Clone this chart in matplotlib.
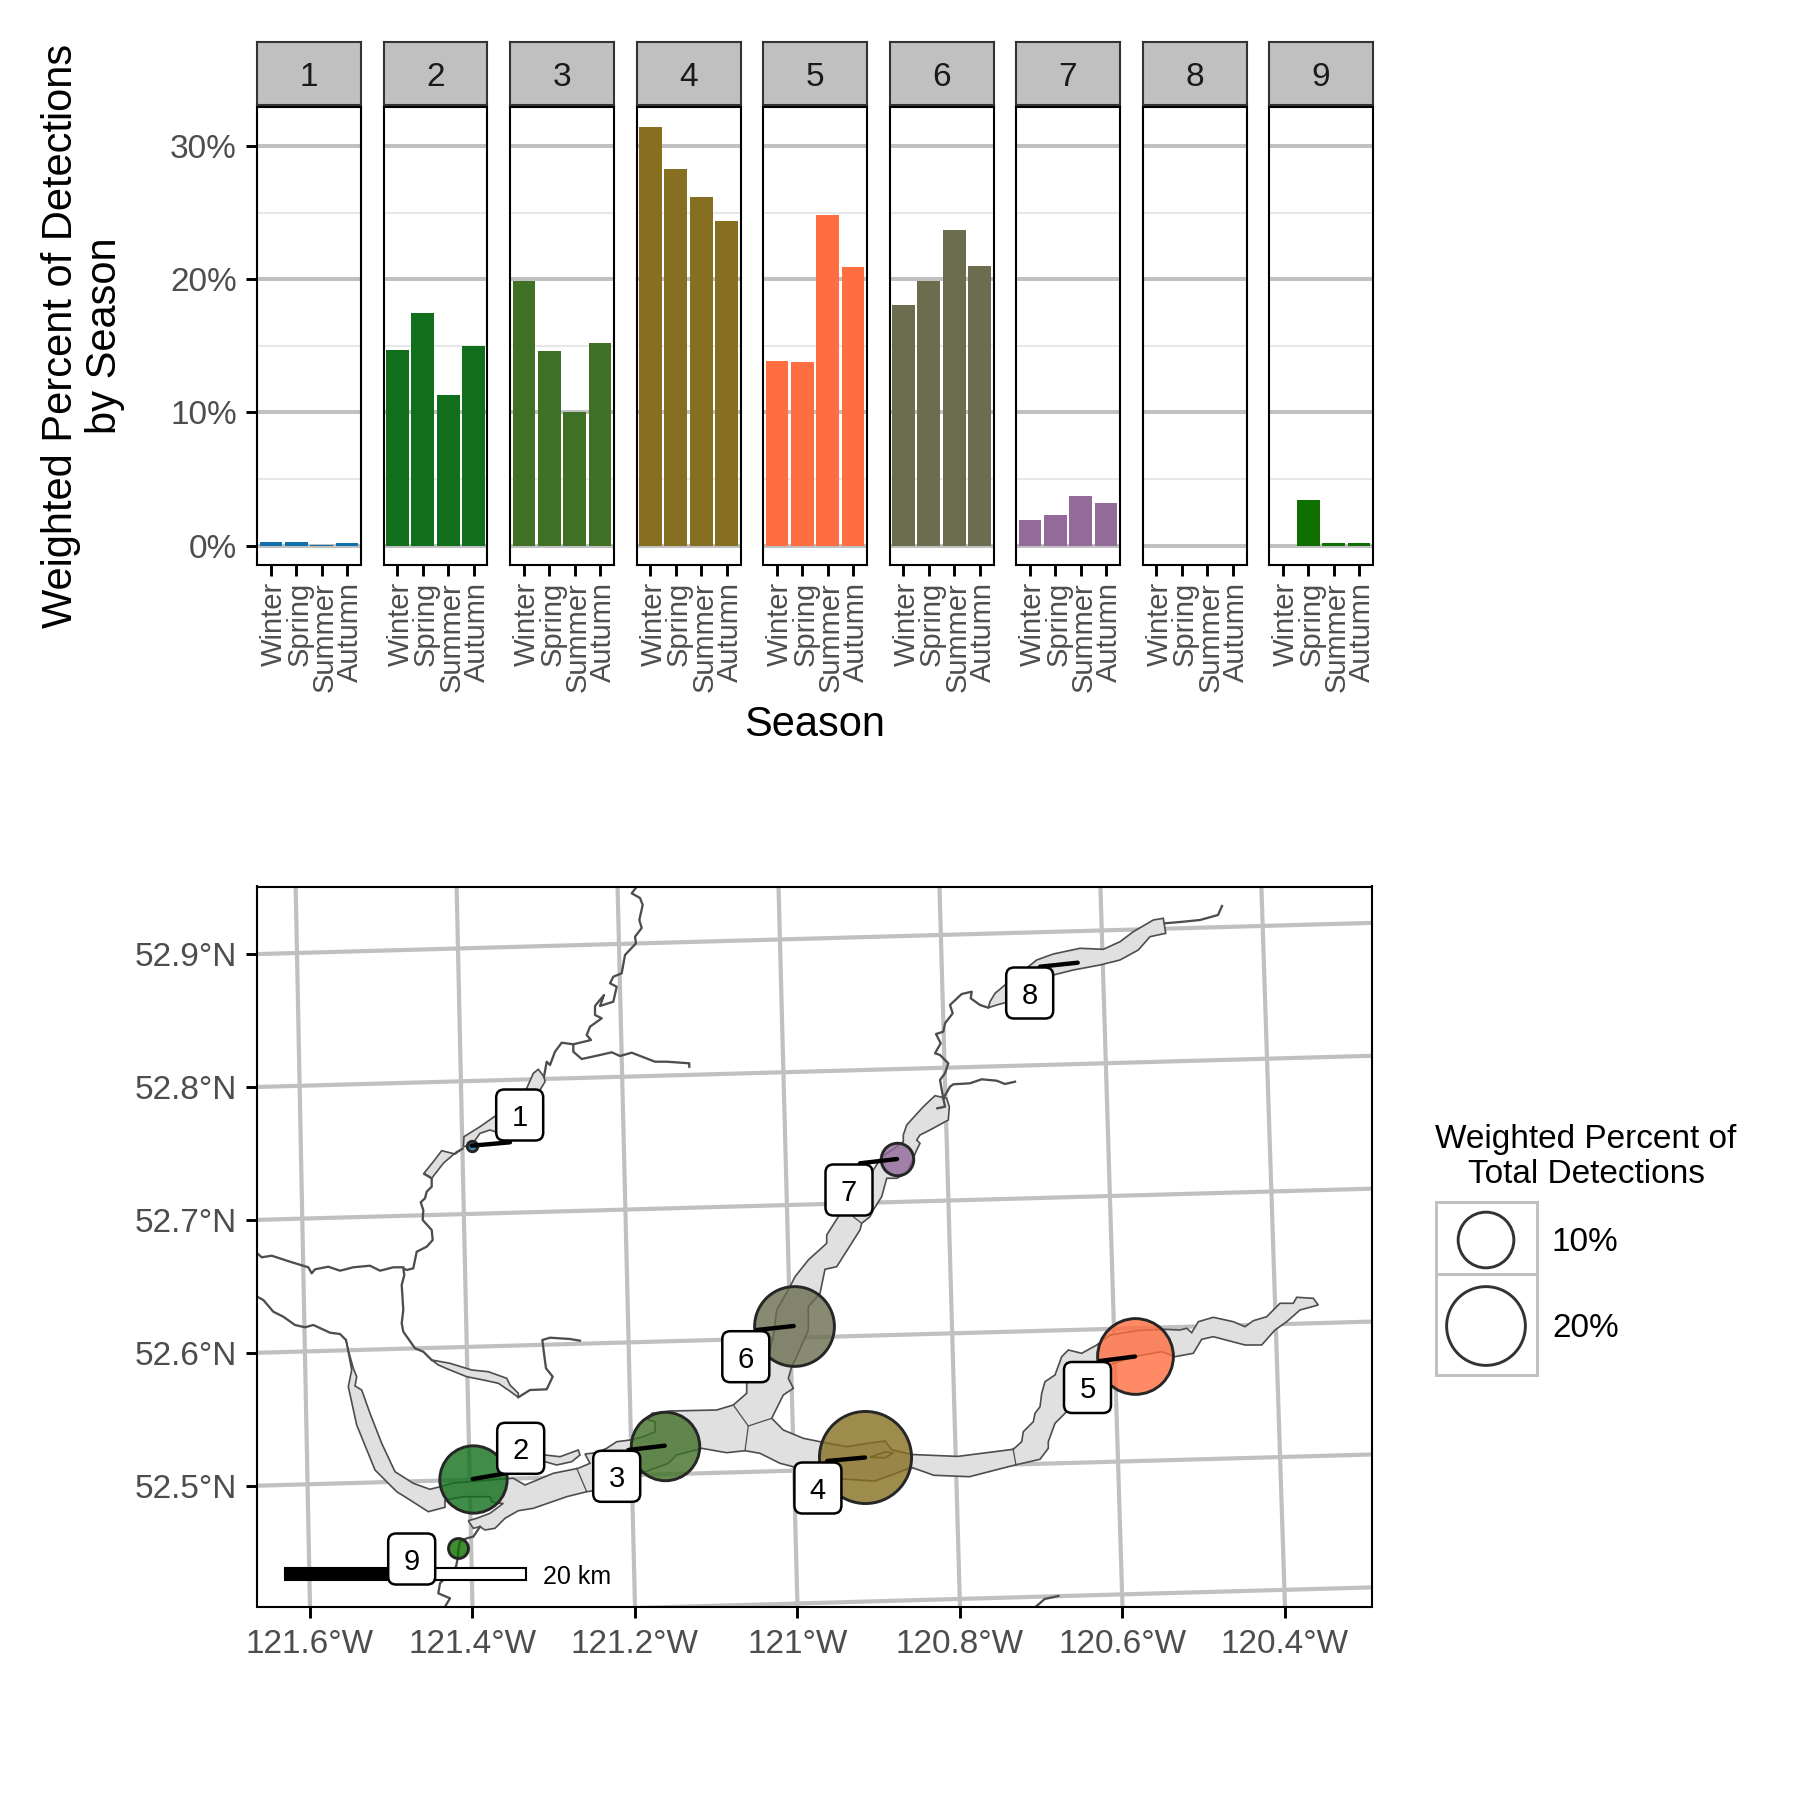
import matplotlib
matplotlib.use("Agg")
import matplotlib.pyplot as plt
from matplotlib.patches import FancyBboxPatch, Polygon, Rectangle
from matplotlib.colors import to_rgba
from matplotlib.transforms import ScaledTranslation
import numpy as np

plt.rcParams['font.family'] = ['Liberation Sans', 'DejaVu Sans']

# bar panels
sites = ["1", "2", "3", "4", "5", "6", "7", "8", "9"]
seasons = ["Winter", "Spring", "Summer", "Autumn"]
pct_by_season = [
    [0.25, 0.25, 0.07, 0.2],
    [14.7, 17.5, 11.3, 15.0],
    [19.9, 14.6, 10.0, 15.2],
    [31.4, 28.3, 26.2, 24.4],
    [13.9, 13.8, 24.8, 20.9],
    [18.1, 19.9, 23.7, 21.0],
    [1.9, 2.3, 3.75, 3.2],
    [0, 0, 0, 0],
    [0, 3.4, 0.2, 0.2],
]
site_colors = ["#1170AA", "#116F1B", "#407026", "#866F21", "#FF6E40",
               "#6B6D4E", "#936A9A", "#3E7A3E", "#0F7000"]

# bubble values, percent of total detections
pct_total = [0.33, 13.75, 14.2, 25.7, 17.4, 19.3, 3.2, 0, 1.2]

# map grid coordinates below are easting/southing in grid units (12 per km)
site_x = [471.7, 472.7, 664.7, 865, 1135, 793.7, 897, 1077.7, 458.3]
site_y = [1145.7, 1479, 1445.7, 1457.5, 1356.5, 1326, 1159, 962.7, 1548.3]
label_x = [519.7, 520.7, 616.7, 817.9, 1087.5, 745.8, 849, 1029.7, 411.7]
label_y = [1115, 1448.3, 1476.3, 1488, 1387.5, 1356.7, 1190, 993, 1559]
seg_end_x = [510, 508, 628.3, 827.2, 1100, 756.7, 860, 1040, None]
seg_end_y = [1142.3, 1473, 1450, 1461, 1361, 1330, 1163.3, 966.7, None]

lons = [-121.6, -121.4, -121.2, -121.0, -120.8, -120.6, -120.4]
lats = [52.5, 52.6, 52.7, 52.8, 52.9]
lats_grid = [52.4, 52.5, 52.6, 52.7, 52.8, 52.9, 53.0]

main_lake = [
    (346, 1340), (348.3, 1350), (353.3, 1368.3), (356.7, 1376.7), (355, 1386), (361.7, 1390),
    (370, 1413.3), (381.7, 1443.3), (395, 1471.7), (413.3, 1483.3), (430, 1489.3), (440, 1486.7),
    (453, 1483), (490, 1480), (513.3, 1478.3), (525, 1485), (553.3, 1473.3), (578.3, 1468.3),
    (590, 1463.3), (585, 1454), (596.7, 1452.7), (606.7, 1448.3), (616.7, 1441.7), (630, 1440),
    (643.3, 1436.7), (655, 1431.7), (655, 1421.7), (648.3, 1420), (651.7, 1413.3), (670, 1411),
    (716.7, 1410), (733.3, 1405), (746.7, 1393.3), (746.7, 1383.3), (770, 1350), (773.3, 1336.7),
    (776.7, 1310), (790, 1286.7), (795, 1276.7), (808.3, 1260), (826.7, 1243.3), (826.7, 1235),
    (838.3, 1216.7), (873.3, 1170), (881.7, 1156.7), (892, 1150), (903.3, 1141.7), (903.3, 1135),
    (906.7, 1125), (923.3, 1106.7), (935, 1095.7), (946.7, 1098.3), (949.3, 1106.7), (948.3, 1120),
    (930, 1130), (920, 1135), (916.7, 1140), (920, 1143.3), (916.7, 1150), (906.7, 1173.3),
    (896.7, 1178.3), (886.7, 1178.3), (881.7, 1196.7), (873.3, 1210), (870, 1216.7), (861.7, 1223.3),
    (860, 1230), (836.7, 1266.7), (825, 1269.3), (820, 1293.3), (808.3, 1306.7), (808.3, 1330),
    (796.7, 1356.7), (791.7, 1366.7), (788.3, 1378.3), (793.3, 1388.3), (783.3, 1395), (771.7, 1418.3),
    (783.3, 1430), (803.3, 1438.3), (820, 1441.7), (846.7, 1446.7), (870, 1443), (885, 1441),
    (892, 1450), (912.2, 1454.5), (957.6, 1456.4), (1013.3, 1449.3), (1021.7, 1441.7), (1023.3, 1431.7),
    (1033.3, 1421.7), (1035, 1413.3), (1040, 1406.7), (1041.7, 1393.3), (1045, 1381.7), (1055, 1375),
    (1061.7, 1356.7), (1068.3, 1350), (1081.7, 1353.3), (1096.7, 1345), (1110, 1335), (1136.7, 1330.7),
    (1163.3, 1329.3), (1180, 1330), (1186.7, 1328.3), (1191.7, 1332.7), (1198.3, 1321.7), (1213.3, 1317.3),
    (1233.3, 1321.7), (1245, 1326.7), (1253.3, 1320.7), (1266.7, 1316.7), (1280, 1303.3), (1293.3, 1303.3),
    (1296.7, 1297.3), (1313.3, 1298.3), (1318.3, 1305), (1300, 1310), (1286.7, 1321.7), (1275, 1330),
    (1261.7, 1345), (1245, 1345), (1213.3, 1336.7), (1201.7, 1339.3), (1193.3, 1353.3), (1175, 1356.7),
    (1161.7, 1351.7), (1143.3, 1355), (1135, 1356.7), (1113.3, 1363.3), (1090, 1380), (1065, 1413.3),
    (1055, 1423.3), (1048.3, 1441.7), (1048.3, 1448.3), (1040, 1459.3), (1015, 1465), (969.5, 1476.7),
    (933.9, 1475.3), (911.4, 1467.3), (894.4, 1474), (874.6, 1481), (843, 1479), (793.3, 1466.7),
    (780, 1463.3), (760, 1453.3), (745, 1450.7), (726.7, 1452.7), (701.7, 1448.3), (676.7, 1455),
    (668.3, 1463.3), (650, 1470), (641.7, 1473.3), (593.3, 1490.7), (586.7, 1491.7), (566.7, 1496.7),
    (533.3, 1508.3), (518.3, 1510.7), (505, 1518.3), (495, 1528.3), (485, 1530), (480, 1526.7),
    (473.3, 1528.3), (468.3, 1520.7), (476.7, 1518.3), (490, 1513.3), (503.3, 1503.3), (498.3, 1503.3),
    (491.7, 1501.7), (490, 1496.7), (463.3, 1496.7), (445, 1500), (445, 1507.3), (428.3, 1511.7),
    (410, 1500), (396.7, 1491.7), (388.3, 1483.3), (375, 1470), (356.7, 1425), (348.3, 1386.7),
    (351.7, 1370),
]
inlet = [(520, 1470), (545, 1455), (560, 1456.7), (578.3, 1450), (580, 1455), (571.7, 1461.7),
         (556.7, 1465), (545, 1461.7)]
island = [(870, 1457), (885, 1452), (893, 1453), (885, 1458)]
lake_upper = [(544, 1076.7), (538.3, 1069.3), (533.3, 1073.3), (526.7, 1088.3), (496.7, 1115), (480, 1126.7),
              (464, 1136.7), (463.3, 1146.7), (471.7, 1145), (480, 1133.3), (490, 1130), (500, 1133.3),
              (540, 1090), (545, 1081.7)]
lake_lower = [(463.3, 1148.3), (455, 1154), (441.7, 1150.7), (433.3, 1161.7), (424, 1173.3), (431.7, 1178.3),
              (443.3, 1163.3), (456.7, 1151.7)]
lake_mid = [(431.7, 1360), (450, 1363.3), (471.7, 1370), (488.3, 1371.7), (506.7, 1378.3), (510, 1385),
            (518.3, 1393.3), (518.3, 1397.3), (508.3, 1390), (498.3, 1383.3), (483.3, 1380), (466.7, 1376.7),
            (450, 1370), (438.3, 1365)]
lake_8a = [(988.3, 1007.7), (990, 1001.7), (995, 993.3), (1005, 985), (1015, 985), (1015, 1000), (996.7, 1005)]
lake_8b = [(1028.3, 966.7), (1036.7, 960), (1053.3, 954), (1080, 948.3), (1103.3, 949.3), (1120, 941.7),
           (1133.3, 931.7), (1153.3, 920), (1163.3, 918.3), (1165.7, 933.3), (1150, 936.7), (1138.3, 950),
           (1120, 960), (1100, 965), (1073.3, 970), (1053.3, 975), (1040, 975)]
lakes = [main_lake, inlet, island, lake_upper, lake_lower, lake_mid, lake_8a, lake_8b]

river_north = [(637.3, 886), (631.7, 893.3), (640, 898), (642.7, 905), (639.3, 920), (641.7, 928), (635, 936.7),
               (636, 943.3), (625, 955), (621.7, 973.3), (613.3, 976.7), (610, 983.3), (616.7, 986.7),
               (613.3, 1001.7), (600, 1006), (604, 995), (595, 1006), (595, 1015), (601.7, 1018.3), (590, 1026.7),
               (586.7, 1035), (591, 1040), (573.3, 1044.3), (561.7, 1042.7), (555, 1051.7), (550, 1065),
               (546.7, 1061.7), (544, 1076.7)]
river_trib = [(573.3, 1044.3), (573.3, 1051.7), (581.7, 1059), (600, 1055), (611.7, 1052.3), (620, 1056),
              (631.7, 1052.7), (655, 1061.7), (666.7, 1061.7), (689.3, 1063.3), (689.3, 1066.7)]
river_mid = [(424.3, 1174), (431.7, 1178.3), (431.7, 1186.7), (426.7, 1191.7), (425, 1198.3), (420.7, 1202.3),
             (423.3, 1210), (422.7, 1220), (431.7, 1230), (432.7, 1240), (426.7, 1246.7), (416.7, 1251.7),
             (413.3, 1268.3), (406.7, 1270), (403.3, 1268.3), (404.3, 1275), (401.7, 1285), (403.3, 1310),
             (401.7, 1323.3), (403.3, 1331.7), (415, 1348.3), (423.3, 1351.7), (431.7, 1360)]
river_west = [(257.3, 1253.3), (261.7, 1257.3), (271.7, 1255.7), (290, 1261.7), (308.3, 1267.3), (311.7, 1273.3),
              (315, 1269.3), (328.3, 1266.7), (340, 1270.7), (353.3, 1267.3), (370, 1265.7), (380, 1270.7),
              (393.3, 1267.3), (403.3, 1267.3)]
river_sw = [(257.3, 1296.7), (263.3, 1300), (273.3, 1311.7), (283.3, 1316.7), (295, 1325), (305, 1327.3),
            (313.3, 1325), (330, 1332.7), (340, 1334), (346, 1340)]
river_hook = [(518.3, 1397.3), (530, 1390), (546.7, 1389.3), (552.7, 1376.7), (546, 1368.3), (544, 1353.3),
              (542.3, 1340), (550, 1337.7), (570, 1339), (580, 1340.7)]
river_ne = [(943.3, 1098.3), (940, 1080), (945, 1073.3), (948.3, 1063.3), (940, 1055), (935, 1053.3),
            (940.7, 1043.3), (936, 1034), (943.3, 1031.7), (945, 1023.3), (952.7, 1013.3), (950, 1005),
            (961.7, 994), (971.7, 991.7), (970.7, 998.3), (980, 1005), (988.3, 1007.7)]
river_ne_trib = [(943.3, 1098.3), (950, 1086.7), (953.3, 1084.3), (970, 1083.3), (981.7, 1079.3), (996.7, 1080.7),
                 (1005, 1084), (1015, 1081.7)]
river_ne_hook = [(937.3, 1108.3), (945, 1106.7), (943.3, 1098.3)]
river_far_ne = [(1165, 923.3), (1183.3, 921.7), (1200, 920), (1218, 915), (1222, 906)]
river_south = [(480, 1526.7), (473.3, 1536.7), (466.7, 1538.3), (460, 1541.7), (458.3, 1550), (457.7, 1558.3),
               (456, 1566.7), (440, 1583.3), (438.3, 1593.3), (450, 1598.3), (445, 1606.7)]
river_se = [(1036.7, 1606), (1044.6, 1599), (1058.4, 1596)]
rivers = [river_north, river_trib, river_mid, river_west, river_sw, river_hook, river_ne, river_ne_trib,
          river_ne_hook, river_far_ne, river_south, river_se]

dividers = [[(576.7, 1468.3), (586.7, 1491.7)],
            [(733.3, 1405), (748.3, 1426), (771.7, 1418.3)],
            [(748.3, 1426), (745, 1450.7)],
            [(1013, 1448.4), (1016, 1465)],
            [(853.3, 1216.7), (861.7, 1223.3)]]

# 20 km scale bar, in grid units
scale_start = 284.7
scale_mid = 405.2
scale_end = 525.8

legend_pcts = [10, 20]
legend_names = ["10%", "20%"]

GRID = "#C0C0C0"
S_PER_PCT = 19.0
W = 1800.0


def rect(x0, y0, x1, y1):
    # pixel box to figure fraction
    return [x0 / W, 1 - y1 / W, (x1 - x0) / W, (y1 - y0) / W]


def meridian_x(lon, y):
    slope = 0.0199 + 0.01075 * (lon + 121.6)
    return 310 + (lon + 121.6) * 812.5 + slope * (y - 1607)


def parallel_y(lat, x):
    return 1485.7 + (52.5 - lat) * 1329 - 0.028 * (x - 257)


def lon_label(lon):
    txt = "{:.1f}".format(abs(lon)).rstrip("0").rstrip(".")
    return txt + "°W"


fig = plt.figure(figsize=(6, 6), dpi=300)
nudge = ScaledTranslation(0.8 / 72, 0, fig.dpi_scale_trans)

# facets
for i, site in enumerate(sites):
    x0 = 257 + 126.5 * i
    strip = fig.add_axes(rect(x0, 42.5, x0 + 104, 104.5))
    strip.set_facecolor(GRID)
    strip.set_xticks([])
    strip.set_yticks([])
    for s in strip.spines.values():
        s.set_linewidth(0.5)
        s.set_color("#333333")
    strip.text(0.5, 0.44, site, transform=strip.transAxes, ha="center", va="center",
               fontsize=8, color="#1A1A1A")

    ax = fig.add_axes(rect(x0, 106.8, x0 + 104, 564.8))
    pos = np.arange(1, 5)
    ax.bar(pos, pct_by_season[i], width=0.9, color=site_colors[i], zorder=3, linewidth=0)
    ax.set_xlim(0.45, 4.55)
    ax.set_ylim(-1.44, 32.95)
    ax.set_yticks([0, 10, 20, 30])
    ax.set_yticks([5, 15, 25], minor=True)
    ax.grid(axis="y", which="major", color=GRID, lw=0.95, zorder=1)
    ax.grid(axis="y", which="minor", color="#E6E6E6", lw=0.45, zorder=1)
    ax.set_axisbelow(True)
    ax.set_xticks(pos)
    ax.set_xticklabels(seasons, rotation=90, ha="center", va="top", fontsize=7, color="#4D4D4D")
    ax.tick_params(axis="x", length=2.6, width=0.7, pad=1.5, color="black")
    ax.tick_params(axis="y", which="major", length=2.6, width=0.7, pad=2.2, color="black",
                   labelsize=8, labelcolor="#4D4D4D")
    ax.tick_params(axis="y", which="minor", length=0)
    for lab in ax.get_xticklabels():
        lab.set_transform(lab.get_transform() + nudge)
    if i == 0:
        ax.set_yticklabels(["0%", "10%", "20%", "30%"])
    else:
        ax.tick_params(axis="y", which="major", length=0, labelleft=False)
    for s in ax.spines.values():
        s.set_linewidth(0.5)
        s.set_color("black")
        s.set_zorder(5)

fig.text(83 / W, 1 - 336 / W, "Weighted Percent of Detections\nby Season", rotation=90,
         ha="center", va="center", fontsize=10, linespacing=1.1, multialignment="center")
fig.text(814.5 / W, 1 - 725.5 / W, "Season", ha="center", va="center", fontsize=10)

# map
m = fig.add_axes(rect(257, 886.5, 1372, 1606.5))
m.set_xlim(257, 1372)
m.set_ylim(1606.5, 886.5)

for lon in lons:
    ys = np.array([886.5, 1606.5])
    m.plot(meridian_x(lon, ys), ys, color=GRID, lw=1.0, zorder=1)
for lat in lats_grid:
    xs = np.array([257, 1372])
    m.plot(xs, parallel_y(lat, xs), color=GRID, lw=1.0, zorder=1)

for lake in lakes:
    m.add_patch(Polygon(lake, closed=True, facecolor="#E0E0E0", edgecolor="#4D4D4D", lw=0.4, zorder=2))
for line in dividers:
    m.plot([p[0] for p in line], [p[1] for p in line], color="#4D4D4D", lw=0.3, zorder=2)
for river in rivers:
    m.plot([p[0] for p in river], [p[1] for p in river], color="#4D4D4D", lw=0.55, zorder=2,
           solid_joinstyle="round")

for i in range(len(sites)):
    if pct_total[i] > 0:
        m.scatter(site_x[i], site_y[i], s=S_PER_PCT * pct_total[i], facecolors=[to_rgba(site_colors[i], 0.8)],
                  edgecolors="#262626", linewidths=0.7, zorder=3)

m.add_patch(Rectangle((scale_start, 1568.5), scale_mid - scale_start, 12, facecolor="black",
                      edgecolor="black", lw=0.5, zorder=4))
m.add_patch(Rectangle((scale_mid, 1568.5), scale_end - scale_mid, 12, facecolor="white",
                      edgecolor="black", lw=0.5, zorder=4))
m.text(543, 1577, "20 km", fontsize=6, ha="left", va="center", zorder=4)

for i in range(len(sites)):
    if seg_end_x[i] is not None:
        m.plot([site_x[i], seg_end_x[i]], [site_y[i], seg_end_y[i]], color="black", lw=1.05,
               solid_capstyle="round", zorder=5)
    box_w, box_h = 47.0, 51.0
    m.add_patch(FancyBboxPatch((label_x[i] - box_w / 2, label_y[i] - box_h / 2), box_w, box_h,
                               boxstyle="round,pad=0,rounding_size=8", facecolor="white", edgecolor="black",
                               lw=0.6, zorder=6))
    m.text(label_x[i], label_y[i], sites[i], fontsize=7, ha="center", va="center_baseline", zorder=7)

m.set_xticks([meridian_x(lon, 1606.5) for lon in lons])
m.set_xticklabels([lon_label(lon) for lon in lons])
m.set_yticks([parallel_y(lat, 257) for lat in lats])
m.set_yticklabels(["{:.1f}°N".format(lat) for lat in lats])
m.tick_params(length=2.6, width=0.7, pad=2.2, labelsize=8, labelcolor="#4D4D4D", color="black")
m.tick_params(axis="x", pad=2.7)
for s in m.spines.values():
    s.set_linewidth(0.5)
    s.set_zorder(8)

# bubble size legend
lg = fig.add_axes(rect(1435.5, 1202, 1536.5, 1375))
lg.set_xlim(1435.5, 1536.5)
lg.set_ylim(1375, 1202)
lg.set_xticks([])
lg.set_yticks([])
for s in lg.spines.values():
    s.set_color(GRID)
    s.set_linewidth(0.7)
lg.axhline(1274, color=GRID, lw=0.7)
key_y = [1240, 1326]
for i in range(2):
    lg.scatter(1486, key_y[i], s=S_PER_PCT * legend_pcts[i] * 0.94, facecolors="none", edgecolors="#333333",
               linewidths=0.7)
    fig.text(1552 / W, 1 - (key_y[i] + 2.5) / W, legend_names[i], fontsize=8, ha="left", va="center")
fig.text(1586 / W, 1 - 1157 / W, "Weighted Percent of\nTotal Detections", fontsize=8, ha="center", va="center",
         linespacing=1.15, multialignment="center")

fig.savefig("out.png", dpi=300)
